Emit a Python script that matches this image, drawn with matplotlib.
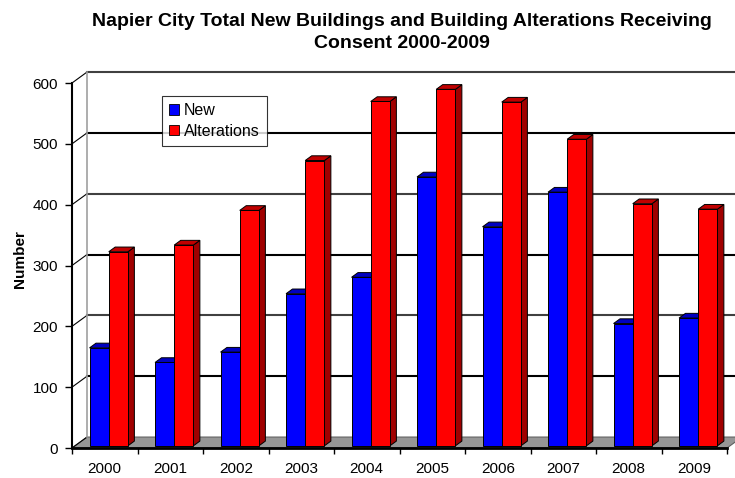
import matplotlib
matplotlib.use('Agg')
import matplotlib.pyplot as plt
from matplotlib.patches import Polygon, Patch
from matplotlib import rc

rc('font', family='Liberation Sans', size=11)

years = ['2000', '2001', '2002', '2003', '2004', '2005', '2006', '2007', '2008', '2009']
new_buildings = [161, 137, 154, 250, 277, 442, 360, 417, 201, 210]
alterations = [319, 330, 387, 469, 566, 586, 565, 504, 398, 389]

# oblique "3D" look: depth offset of the back wall in data units
DX = 0.229
DY = 18.0
d0 = 0.2      # depth of bar front faces
bd = 0.43     # bar depth as fraction of full depth


def draw_bar(ax, x0, w, h, front, side, top):
    ox, oy = d0 * DX, d0 * DY
    sx, sy = bd * DX, bd * DY
    xl, xr = x0 + ox, x0 + ox + w
    yb, yt = oy, oy + h
    kw = dict(edgecolor='black', linewidth=0.7, zorder=5)
    ax.add_patch(Polygon([(xr, yb), (xr + sx, yb + sy), (xr + sx, yt + sy), (xr, yt)], facecolor=side, **kw))
    ax.add_patch(Polygon([(xl, yt), (xr, yt), (xr + sx, yt + sy), (xl + sx, yt + sy)], facecolor=top, **kw))
    ax.add_patch(Polygon([(xl, yb), (xr, yb), (xr, yt), (xl, yt)], facecolor=front, **kw))


fig = plt.figure(figsize=(7.35, 4.78), dpi=100)
ax = fig.add_axes([72 / 735, 30 / 478, 663 / 735, 383 / 478])
ax.set_xlim(0, 663 / 65.5)
ax.set_ylim(0, 629.6)

n = len(years)

# floor
ax.add_patch(Polygon([(0, 0), (n, 0), (n + DX, DY), (DX, DY)], facecolor='#969696',
                     edgecolor='#606060', linewidth=0.8, zorder=1))

# back wall gridlines + left-side connectors
for v in range(100, 700, 100):
    col = 'black' if (v // 100) % 2 == 1 else '#404040'
    ax.plot([DX, n + DX + 1], [v + DY, v + DY], color=col, lw=1.5, zorder=2)
for v in range(0, 700, 100):
    ax.plot([0, DX], [v, v + DY], color='black', lw=0.8, zorder=2)
ax.plot([DX, DX], [DY, 600 + DY], color='#a0a0a0', lw=1.2, zorder=2)

# bars
w = 0.293
left = 0.222
for i in range(n):
    draw_bar(ax, i + left, w, new_buildings[i], '#0000ff', '#000090', '#0000c0')
    draw_bar(ax, i + left + w, w, alterations[i], '#ff0000', '#a00000', '#c00000')

# axes styling
for s in ['top', 'right']:
    ax.spines[s].set_visible(False)
ax.spines['left'].set_bounds(0, 600)
ax.spines['left'].set_linewidth(1.5)
ax.spines['bottom'].set_linewidth(2)
ax.spines['bottom'].set_bounds(0, n)

ax.set_yticks(range(0, 700, 100))
ax.tick_params(axis='y', direction='out', length=5, width=1, pad=5, labelsize=11)
ax.set_xticks(range(0, n + 1))
ax.set_xticklabels([])
ax.tick_params(axis='x', which='major', direction='out', length=4, width=1)
ax.set_xticks([i + 0.5 for i in range(n)], minor=True)
ax.set_xticklabels(years, minor=True)
ax.tick_params(axis='x', which='minor', length=0, pad=10, labelsize=11)

ax.set_ylabel('Number', fontweight='bold', fontsize=11)
ax.yaxis.set_label_coords(-(72 - 27) / 663, (448 - 259) / 383)

fig.text(402 / 735, 1 - 13 / 478,
         'Napier City Total New Buildings and Building Alterations Receiving\nConsent 2000-2009',
         ha='center', va='top', fontweight='bold', fontsize=14, linespacing=1.35)

handles = [Patch(facecolor='#0000ff', edgecolor='black', linewidth=0.6, label='New'),
           Patch(facecolor='#ff0000', edgecolor='black', linewidth=0.6, label='Alterations')]
leg = ax.legend(handles=handles, loc='upper left', frameon=True, fancybox=False, fontsize=11.5,
                handlelength=0.6, handleheight=0.6, handletextpad=0.3, borderpad=0.45,
                labelspacing=0.35, borderaxespad=0)
leg.get_frame().set_edgecolor('black')
leg.get_frame().set_linewidth(0.8)
leg.set_bbox_to_anchor((162 / 735, (478 - 96) / 478), transform=fig.transFigure)
leg.set_zorder(10)

fig.savefig('out.png', dpi=100)
